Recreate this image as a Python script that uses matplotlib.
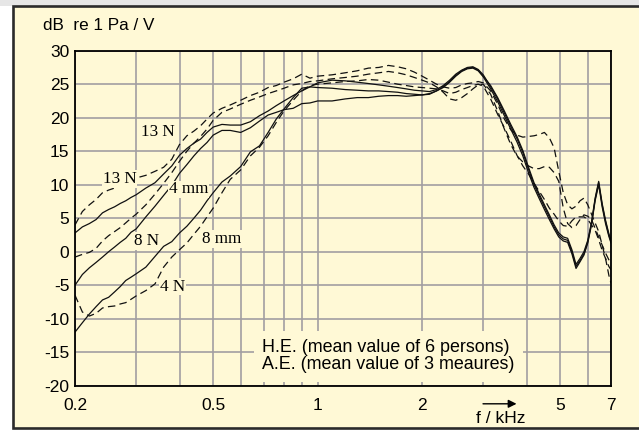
import matplotlib.pyplot as plt
import matplotlib.patches as patches
from matplotlib.ticker import FixedLocator, NullLocator

plt.rcParams['font.family'] = ['Liberation Sans', 'DejaVu Sans']
plt.rcParams['axes.unicode_minus'] = False

# frequency points (kHz), shared by all curves
freq = [0.20, 0.21, 0.22, 0.23, 0.24, 0.25, 0.26, 0.27, 0.28, 0.29,
        0.30, 0.32, 0.34, 0.36, 0.38, 0.40, 0.42, 0.44, 0.46, 0.48,
        0.50, 0.53, 0.56, 0.60, 0.64, 0.68, 0.72, 0.76, 0.80, 0.85,
        0.90, 0.95, 1.00, 1.10, 1.20, 1.30, 1.40, 1.50, 1.60, 1.70,
        1.80, 1.90, 2.00, 2.10, 2.20, 2.30, 2.40, 2.50, 2.60, 2.70,
        2.80, 2.90, 3.00, 3.15, 3.30, 3.45, 3.60, 3.75, 3.90, 4.05,
        4.20, 4.35, 4.50, 4.65, 4.80, 4.95, 5.10, 5.25, 5.40, 5.55,
        5.70, 5.85, 6.00, 6.15, 6.30, 6.45, 6.60, 6.75, 6.90, 7.00]

# H.E. - solid curves (dB re 1 Pa / V)
he_13n = [2.8, 3.7, 4.2, 4.8, 5.8, 6.3, 6.7, 7.2, 7.6, 8.1,
          8.5, 9.5, 10.3, 11.6, 12.8, 14.4, 15.4, 16.2, 16.8, 17.8,
          18.6, 19.0, 18.9, 18.9, 19.4, 20.3, 21.0, 21.8, 22.5, 23.3,
          24.0, 24.6, 25.2, 25.6, 25.5, 25.3, 25.1, 24.9, 24.7, 24.5,
          24.3, 24.1, 24.0, 23.9, 24.2, 24.8, 25.6, 26.5, 27.1, 27.5,
          27.6, 27.2, 26.4, 24.6, 22.8, 20.7, 18.7, 16.9, 14.8, 12.3,
          10.0, 8.3, 6.7, 5.2, 3.7, 2.5, 1.9, 1.7, 0.0, -2.2,
          -1.3, -0.3, 1.5, 4.2, 7.8, 10.3, 7.0, 4.5, 2.5, 1.5]
he_8n = [-5.0, -3.4, -2.4, -1.6, -0.8, 0.0, 0.7, 1.4, 2.0, 2.9,
         3.4, 5.2, 6.8, 8.4, 9.9, 11.7, 13.0, 14.3, 15.4, 16.3,
         17.4, 18.1, 18.1, 17.8, 18.5, 19.5, 20.4, 20.8, 21.2, 21.4,
         22.1, 22.2, 22.5, 22.5, 22.8, 23.0, 23.0, 23.2, 23.3, 23.3,
         23.2, 23.3, 23.4, 23.6, 24.0, 24.5, 25.3, 26.2, 26.9, 27.3,
         27.4, 27.0, 26.1, 24.3, 22.4, 20.3, 18.3, 16.4, 14.3, 11.8,
         9.6, 7.9, 6.3, 4.8, 3.4, 2.2, 1.6, 1.4, -0.3, -2.5,
         -1.5, -0.5, 1.3, 4.0, 7.6, 10.0, 6.7, 4.2, 2.3, 1.3]
he_4n = [-12.0, -10.6, -9.3, -8.2, -7.2, -6.8, -6.0, -5.2, -4.3, -3.8,
         -3.3, -2.3, -0.7, 0.8, 1.5, 2.8, 3.8, 5.0, 6.2, 7.6,
         8.8, 10.4, 11.3, 12.7, 14.9, 15.8, 17.8, 19.8, 21.3, 23.0,
         24.4, 24.6, 24.5, 24.4, 24.2, 24.1, 24.0, 24.0, 23.9, 23.8,
         23.6, 23.5, 23.4, 23.5, 24.0, 24.6, 25.4, 26.3, 27.0, 27.4,
         27.5, 27.1, 26.2, 24.8, 23.0, 21.0, 19.0, 17.2, 15.1, 12.6,
         10.3, 8.6, 7.0, 5.5, 4.0, 2.8, 2.2, 2.0, 0.3, -1.9,
         -1.0, 0.0, 1.7, 4.4, 8.0, 10.5, 7.2, 4.7, 2.7, 1.7]

# A.E. - dashed curves
ae_13n = [4.0, 6.0, 7.0, 7.8, 8.8, 9.2, 9.5, 10.0, 10.3, 10.6,
          11.0, 11.4, 12.0, 12.6, 13.8, 16.0, 17.3, 18.0, 18.8, 19.8,
          20.7, 21.4, 21.9, 22.6, 23.3, 23.8, 24.5, 24.8, 25.3, 25.8,
          26.5, 25.9, 26.2, 26.4, 26.7, 27.0, 27.4, 27.5, 27.8, 27.6,
          27.3, 26.8, 26.2, 25.6, 25.0, 24.6, 24.4, 24.5, 24.9, 25.1,
          25.2, 25.4, 25.2, 24.0, 22.0, 19.8, 18.2, 17.4, 17.1, 17.2,
          17.3, 17.5, 17.8, 17.0, 15.5, 12.0, 8.8, 7.0, 6.4, 6.8,
          7.6, 8.0, 7.0, 5.6, 4.3, 3.0, 1.0, -1.0, -3.5, -4.7]
ae_4mm = [-0.8, -0.4, -0.1, 0.5, 1.6, 2.4, 3.0, 3.6, 4.3, 5.0,
          5.6, 7.0, 8.6, 10.2, 11.8, 13.5, 15.0, 16.2, 17.2, 18.3,
          19.6, 20.8, 21.3, 22.0, 22.6, 23.1, 23.6, 24.0, 24.4, 24.9,
          25.1, 25.4, 25.5, 25.8, 26.0, 26.2, 26.5, 26.7, 26.9, 26.7,
          26.4, 26.0, 25.6, 25.2, 24.6, 23.8, 22.8, 22.6, 23.0, 23.6,
          24.3, 24.9, 25.0, 23.5, 21.0, 18.3, 16.0, 14.3, 13.4, 12.8,
          12.4, 12.4, 12.7, 12.6, 11.8, 10.5, 6.5, 4.2, 3.6, 3.9,
          4.8, 5.5, 5.3, 4.8, 3.5, 2.2, 1.0, -0.2, -1.2, -1.7]
ae_8mm = [-6.5, -9.0, -9.6, -9.2, -8.4, -8.2, -8.1, -7.8, -7.6, -7.1,
          -6.6, -5.8, -4.8, -2.3, -0.8, 0.3, 1.3, 2.6, 3.8, 5.2,
          6.5, 8.8, 10.8, 12.2, 14.3, 15.6, 17.3, 19.3, 21.0, 22.6,
          24.0, 24.8, 25.0, 25.2, 25.4, 25.5, 25.7, 25.6, 25.3, 25.0,
          24.8, 24.6, 24.5, 24.4, 24.3, 24.0, 23.6, 23.8, 24.2, 24.5,
          24.8, 25.0, 24.7, 22.8, 20.5, 18.5, 16.5, 14.4, 12.8, 11.6,
          10.2, 9.0, 7.8, 6.5, 5.6, 4.6, 3.9, 3.8, 4.6, 5.2,
          5.2, 5.2, 4.8, 4.0, 3.2, 1.8, 0.2, -1.0, -2.2, -2.7]

# curve labels: text, frequency, level
curve_labels = ['13 N', '13 N', '4 mm', '8 N', '8 mm', '4 N']
label_freq = [0.347, 0.269, 0.425, 0.322, 0.528, 0.381]
label_level = [17.8, 10.85, 9.3, 1.6, 1.9, -5.2]

x_grid = [0.2, 0.3, 0.4, 0.5, 0.6, 0.7, 0.8, 0.9, 1, 2, 3, 4, 5, 6, 7]
x_ticklabels = ['0.2', '', '', '0.5', '', '', '', '', '1', '2', '', '', '5', '', '7']
y_ticks = [-20, -15, -10, -5, 0, 5, 10, 15, 20, 25, 30]

bg = '#fff9d6'
ink = '#111111'

fig = plt.figure(figsize=(6.39, 4.30), dpi=100, facecolor='white')

# framed panel behind the chart
fig.add_artist(patches.Rectangle((0, 0.987), 1, 0.013, transform=fig.transFigure,
                                 facecolor='#e6e6e6', edgecolor='none', zorder=-3))
fig.add_artist(patches.Rectangle((0.0211, 0.0035), 1.0, 0.9832, transform=fig.transFigure,
                                 facecolor=bg, edgecolor='#2b2b2b', lw=1.9, zorder=-2))

ax = fig.add_axes([0.1174, 0.1030, 0.8388, 0.7791])
ax.set_facecolor(bg)
ax.patch.set_alpha(0)

for vals in [he_13n, he_8n, he_4n]:
    ax.plot(freq, vals, color=ink, lw=0.9)
for vals in [ae_13n, ae_4mm, ae_8mm]:
    ax.plot(freq, vals, color=ink, lw=0.9, ls=(0, (6, 3.5)))

ax.set_xscale('log')
ax.set_xlim(0.2, 7)
ax.set_ylim(-20, 30)
ax.xaxis.set_major_locator(FixedLocator(x_grid))
ax.xaxis.set_minor_locator(NullLocator())
ax.set_xticklabels(x_ticklabels)
ax.set_yticks(y_ticks)
ax.set_yticklabels([str(v) for v in y_ticks])
ax.tick_params(length=0, labelsize=12.5, colors='black')
ax.tick_params(axis='x', pad=9)
ax.tick_params(axis='y', pad=4)
ax.grid(True, color='#a29ea2', lw=1.2)
ax.set_axisbelow(True)
for s in ax.spines.values():
    s.set_color('black')
    s.set_linewidth(1.3)

for txt, fx, lv in zip(curve_labels, label_freq, label_level):
    ax.text(fx, lv, txt, ha='center', va='center', fontsize=12.3,
            family=['Liberation Serif', 'DejaVu Serif'], zorder=4,
            bbox=dict(facecolor=bg, edgecolor='none', pad=0.6))

ax.text(0.693, -15.6, 'H.E. (mean value of 6 persons)\nA.E. (mean value of 3 meaures)',
        ha='left', va='center', fontsize=12.9, linespacing=1.02, zorder=4,
        bbox=dict(facecolor=bg, edgecolor='none', pad=6))

# frequency axis arrow and unit
ax.annotate('', xy=(3.81, -22.7), xytext=(2.94, -22.7), annotation_clip=False,
            arrowprops=dict(arrowstyle='-|>', color='black', lw=1, mutation_scale=12))
ax.text(3.37, -24.9, 'f / kHz', ha='center', va='center', fontsize=12.5, clip_on=False)

fig.text(43 / 639, 1 - 26 / 430, 'dB  re 1 Pa / V', ha='left', va='center', fontsize=12.3)

fig.savefig('out.png', dpi=100)
